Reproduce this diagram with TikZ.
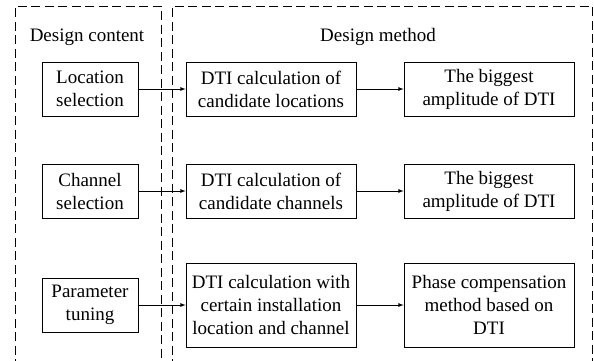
\documentclass[tikz,border=0pt]{standalone}
\usepackage{fontspec}
\setmainfont{Liberation Serif}
\begin{document}
\begin{tikzpicture}[>=latex, x=1pt, y=-1pt,
		every node/.style={font=\fontsize{19}{23}\selectfont},
		stage/.style={draw, thick, align=center, inner sep=2pt, minimum height=54pt},
		part/.style={draw, thick, dash pattern=on 9pt off 4.5pt}]
		\useasboundingbox (0,0) rectangle (594,360);

		% the two dashed frames, open at the bottom
		\draw [part] (15,368)--(15,6)--(161,6)--(161,368);
		\draw [part] (172,368)--(172,6)--(592,6)--(592,368);

		\node (content) at (87,37) {Design content};
		\node (method) at (378,37) {Design method};

		\node (loc)  [stage, minimum width=96pt] at (90,89) {Location\\selection};
		\node (chan) [stage, minimum width=96pt] at (90,191) {Channel\\selection};
		\node (par)  [stage, minimum width=96pt] at (90,305) {Parameter\\tuning};

		\node (dtiloc)  [stage, minimum width=170pt] at (271,89) {DTI calculation of\\candidate locations};
		\node (dtichan) [stage, minimum width=170pt] at (271,191) {DTI calculation of\\candidate channels};
		\node (dtipar)  [stage, minimum width=170pt, minimum height=84pt] at (271,305) {DTI calculation with\\certain installation\\location and channel};

		\node (maxloc)  [stage, minimum width=170pt] at (489,89) {The biggest\\amplitude of DTI};
		\node (maxchan) [stage, minimum width=170pt] at (489,191) {The biggest\\amplitude of DTI};
		\node (phase)   [stage, minimum width=170pt, minimum height=84pt] at (489,305) {Phase compensation\\method based on\\DTI};

		\draw [->,thick] (loc.east)--(dtiloc.west);
		\draw [->,thick] (chan.east)--(dtichan.west);
		\draw [->,thick] (par.east)--(dtipar.west);
		\draw [->,thick] (dtiloc.east)--(maxloc.west);
		\draw [->,thick] (dtichan.east)--(maxchan.west);
		\draw [->,thick] (dtipar.east)--(phase.west);
	\end{tikzpicture}
\end{document}
